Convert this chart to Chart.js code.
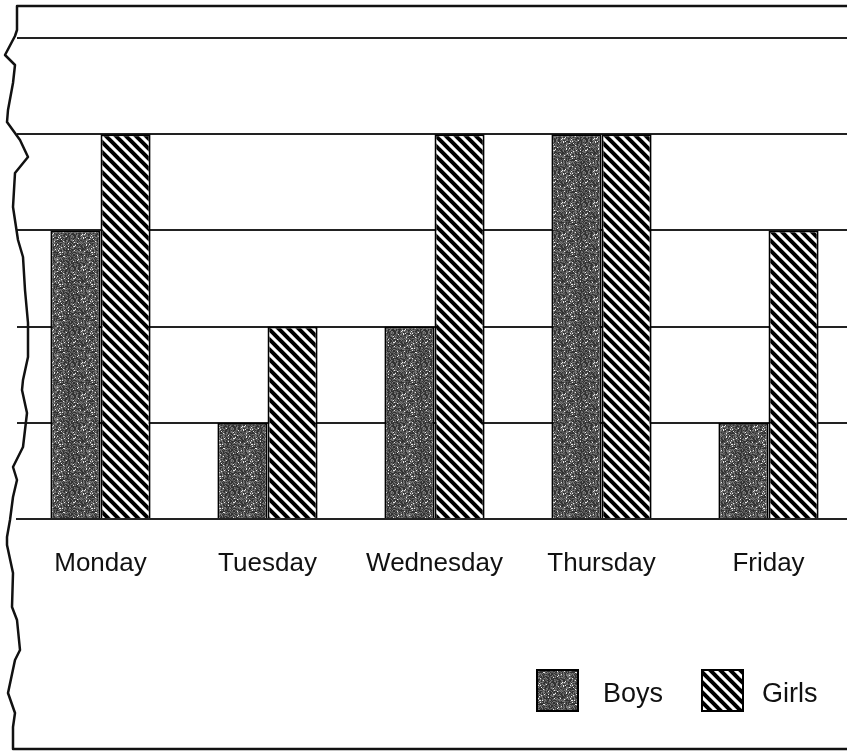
<!DOCTYPE html>
<html>
<head>
<meta charset="utf-8">
<title>Boys and Girls</title>
<script src="https://cdn.jsdelivr.net/npm/chart.js@4.4.0/dist/chart.umd.min.js"></script>
<style>
    html, body { margin: 0; padding: 0; background: #fff; overflow: hidden; }
    #wrap { width: 847px; height: 753px; overflow: hidden; }
</style>
</head>
<body>
<div id="wrap"><canvas id="attendanceChart" width="860" height="753"></canvas></div>
<script>
// Datos
const days = ['Monday', 'Tuesday', 'Wednesday', 'Thursday', 'Friday'];
const boysCount = [3, 1, 2, 4, 1];
const girlsCount = [4, 2, 4, 4, 3];
const seriesNames = ['Boys', 'Girls'];
const yMax = 5;

const fontFamily = "'Liberation Sans', Arial, sans-serif";

// Textura punteada (chicos)
function makeStipple(ctx) {
    const size = 32;
    const c = document.createElement('canvas');
    c.width = size; c.height = size;
    const g = c.getContext('2d');
    const img = g.createImageData(size, size);
    for (let y = 0; y < size; y++) {
        for (let x = 0; x < size; x++) {
            let h = (Math.imul(x, 374761393) + Math.imul(y, 668265263)) | 0;
            h = Math.imul(h ^ (h >>> 13), 1274126177);
            h = (h ^ (h >>> 16)) >>> 0;
            const r = h % 100;
            const v = r < 5 ? 235 : (r < 40 ? 50 : (r < 75 ? 85 : 120));
            const i = (y * size + x) * 4;
            img.data[i] = img.data[i + 1] = img.data[i + 2] = v;
            img.data[i + 3] = 255;
        }
    }
    g.putImageData(img, 0, 0);
    return ctx.createPattern(c, 'repeat');
}

// Rayado diagonal (chicas)
function makeHatch(ctx) {
    const s = 10;
    const c = document.createElement('canvas');
    c.width = s; c.height = s;
    const g = c.getContext('2d');
    g.fillStyle = '#fff';
    g.fillRect(0, 0, s, s);
    g.strokeStyle = '#000';
    g.lineWidth = 4;
    [-s, 0, s].forEach(o => {
        g.beginPath();
        g.moveTo(o - 2, -2);
        g.lineTo(o + s + 2, s + 2);
        g.stroke();
    });
    return ctx.createPattern(c, 'repeat');
}

const ctx = document.getElementById('attendanceChart').getContext('2d');
const boysFill = makeStipple(ctx);
const girlsFill = makeHatch(ctx);

// Borde de papel rasgado y marco
const tornEdge = [
    [17, 6], [17, 30], [15, 36], [5, 55], [15, 65], [13, 83], [8, 110], [7, 122],
    [20, 140], [28, 157], [15, 173], [13, 207], [18, 240], [23, 257], [25, 290],
    [28, 323], [28, 357], [23, 380], [22, 390], [27, 413], [23, 447], [13, 467],
    [17, 480], [13, 497], [10, 520], [7, 537], [7, 545], [13, 573], [12, 607],
    [17, 620], [20, 650], [15, 660], [8, 693], [15, 713], [13, 727], [13, 749]
];

const paperFrame = {
    id: 'paperFrame',
    beforeDraw(chart) {
        const c = chart.ctx;
        c.save();
        c.fillStyle = '#fff';
        c.fillRect(0, 0, chart.width, chart.height);
        c.restore();
    },
    afterDraw(chart) {
        const c = chart.ctx;
        c.save();
        c.strokeStyle = '#111';
        c.lineWidth = 2.5;
        c.lineJoin = 'round';
        c.beginPath();
        c.moveTo(chart.width, 6);
        tornEdge.forEach(([x, y]) => c.lineTo(x, y));
        c.lineTo(chart.width, 749);
        c.stroke();
        c.restore();
    }
};

// Leyenda dibujada a mano
const customLegend = {
    id: 'customLegend',
    afterDraw(chart) {
        const c = chart.ctx;
        const fills = [boysFill, girlsFill];
        const boxX = [537, 702];
        const textX = [603, 762];
        c.save();
        c.font = '27px ' + fontFamily;
        c.textBaseline = 'alphabetic';
        seriesNames.forEach((name, i) => {
            c.fillStyle = fills[i];
            c.fillRect(boxX[i], 670, 41, 41);
            c.strokeStyle = '#000';
            c.lineWidth = 2;
            c.strokeRect(boxX[i], 670, 41, 41);
            c.fillStyle = '#111';
            c.fillText(name, textX[i], 702);
        });
        c.restore();
    }
};

new Chart(ctx, {
    type: 'bar',
    data: {
        labels: days,
        datasets: [{
            label: seriesNames[0],
            data: boysCount,
            backgroundColor: boysFill,
            borderColor: '#000',
            borderWidth: 2
        }, {
            label: seriesNames[1],
            data: girlsCount,
            backgroundColor: girlsFill,
            borderColor: '#000',
            borderWidth: 2
        }]
    },
    options: {
        responsive: false,
        animation: false,
        devicePixelRatio: 1,
        layout: {
            padding: { top: 38, left: 17, right: 8, bottom: 0 }
        },
        datasets: {
            bar: {
                barPercentage: 1,
                categoryPercentage: 0.6
            }
        },
        plugins: {
            legend: { display: false },
            tooltip: { enabled: false }
        },
        scales: {
            x: {
                grid: { display: false },
                border: { display: true, color: '#222', width: 2 },
                ticks: {
                    color: '#111',
                    padding: 21,
                    maxRotation: 0,
                    font: { family: fontFamily, size: 26 }
                },
                afterFit: function(scale) {
                    scale.height = 234;
                }
            },
            y: {
                min: 0,
                max: yMax,
                ticks: { display: false, stepSize: 1 },
                grid: { color: '#222', lineWidth: 2, drawTicks: false },
                border: { display: false },
                afterFit: function(scale) {
                    scale.width = 0;
                }
            }
        }
    },
    plugins: [paperFrame, customLegend]
});
</script>
</body>
</html>
